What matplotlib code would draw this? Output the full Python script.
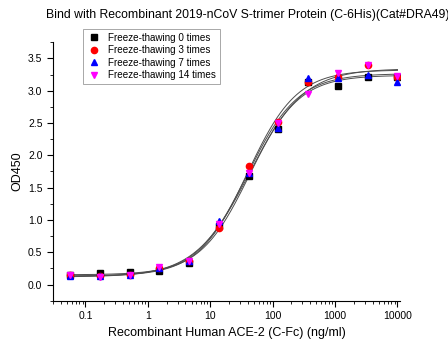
import numpy as np
import matplotlib.pyplot as plt
from matplotlib.ticker import LogLocator, MultipleLocator, FixedLocator, NullFormatter

plt.rcParams['font.family'] = ['Liberation Sans', 'DejaVu Sans']

# 3-fold dilution series (ng/ml)
conc = [0.0565, 0.169, 0.508, 1.52, 4.57, 13.7, 41.2, 123.5, 370.4, 1111, 3333, 10000]

od_0 = [0.15, 0.18, 0.19, 0.21, 0.34, 0.90, 1.68, 2.41, 3.13, 3.08, 3.22, 3.22]
od_3 = [0.14, 0.13, 0.15, 0.26, 0.36, 0.87, 1.84, 2.51, 3.14, 3.22, 3.40, 3.22]
od_7 = [0.13, 0.13, 0.15, 0.26, 0.37, 0.98, 1.73, 2.43, 3.19, 3.20, 3.25, 3.14]
od_14 = [0.14, 0.12, 0.15, 0.27, 0.36, 0.93, 1.72, 2.50, 2.95, 3.27, 3.40, 3.23]

labels = ['Freeze-thawing 0 times', 'Freeze-thawing 3 times',
          'Freeze-thawing 7 times', 'Freeze-thawing 14 times']


def logistic4(p, lx):
    a, d, lc, b = p
    return d + (a - d) / (1 + 10 ** (b * (lx - lc)))


def fit4pl(x, y):
    """简单的 Gauss-Newton 四参数拟合"""
    lx = np.log10(x)
    y = np.asarray(y)
    p = np.array([y.min(), y.max(), 1.5, 1.0])
    lam = 1e-3
    for _ in range(200):
        r = y - logistic4(p, lx)
        J = np.zeros((len(lx), 4))
        for i in range(4):
            dp = np.zeros(4)
            dp[i] = 1e-6
            J[:, i] = (logistic4(p + dp, lx) - logistic4(p - dp, lx)) / 2e-6
        H = J.T @ J
        step = np.linalg.solve(H + lam * np.diag(np.diag(H)), J.T @ r)
        p_new = p + step
        if np.sum((y - logistic4(p_new, lx)) ** 2) < np.sum(r ** 2):
            p = p_new
            lam *= 0.5
        else:
            lam *= 5
    return p


fig = plt.figure(figsize=(4.48, 3.44), dpi=100)
ax = fig.add_axes([0.118, 0.126, 0.775, 0.753])

styles = [('s', 'black'), ('o', 'red'), ('^', 'blue'), ('v', 'magenta')]
xs = np.logspace(np.log10(conc[0]), np.log10(conc[-1]), 300)
for od, (m, c), lab in zip([od_0, od_3, od_7, od_14], styles, labels):
    p = fit4pl(conc, od)
    ax.plot(xs, logistic4(p, np.log10(xs)), color='0.3', lw=0.7, zorder=1)
    ax.plot(conc, od, ls='none', marker=m, color=c, ms=4.5, label=lab, zorder=3)

ax.set_xscale('log')
ax.set_xlim(0.03, 11000)
ax.set_ylim(-0.25, 3.76)
ax.xaxis.set_major_locator(FixedLocator([0.1, 1, 10, 100, 1000, 10000]))
ax.set_xticklabels(['0.1', '1', '10', '100', '1000', '10000'])
ax.xaxis.set_minor_locator(LogLocator(base=10, subs=np.arange(2, 10), numticks=20))
ax.xaxis.set_minor_formatter(NullFormatter())
ax.yaxis.set_major_locator(MultipleLocator(0.5))
ax.yaxis.set_minor_locator(MultipleLocator(0.25))
ax.yaxis.set_major_formatter(plt.FormatStrFormatter('%.1f'))

for s in ['top', 'right']:
    ax.spines[s].set_visible(False)
ax.tick_params(which='major', direction='out', length=4, width=0.8, labelsize=7.5)
ax.tick_params(which='minor', direction='out', length=2, width=0.6)

ax.set_xlabel('Recombinant Human ACE-2 (C-Fc) (ng/ml)', fontsize=9, labelpad=4)
ax.set_ylabel('OD450', fontsize=9, labelpad=3)
fig.text(0.553, 0.955, 'Bind with Recombinant 2019-nCoV S-trimer Protein (C-6His)(Cat#DRA49)',
         ha='center', va='center', fontsize=8.8)

leg = ax.legend(loc='upper left', bbox_to_anchor=(0.087, 1.05), fontsize=7.1,
                frameon=True, fancybox=False, edgecolor='0.5', borderpad=0.4,
                labelspacing=0.25, handletextpad=0.6, handlelength=1.5,
                borderaxespad=0)
leg.get_frame().set_linewidth(0.6)

fig.savefig('out.png', dpi=100)
